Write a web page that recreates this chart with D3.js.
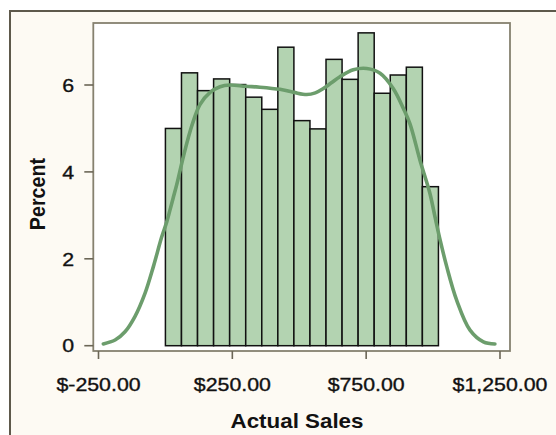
<!DOCTYPE html>
<html>
<head>
<meta charset="utf-8">
<script src="https://cdn.jsdelivr.net/npm/d3@7"></script>
<style>
  html, body { margin: 0; padding: 0; background: #ffffff; }
  svg { display: block; }
</style>
</head>
<body>
<div id="chart"></div>
<script>
// ---- data ----
const binLow  = [0, 60, 120, 180, 240, 300, 360, 420, 480, 540, 600, 660, 720, 780, 840, 900, 960];
const binHigh = [60, 120, 180, 240, 300, 360, 420, 480, 540, 600, 660, 720, 780, 840, 900, 960, 1020];
const percents = [5.0, 6.28, 5.87, 6.14, 6.01, 5.72, 5.44, 6.87, 5.18, 4.99, 6.59, 6.13, 7.2, 5.81, 6.23, 6.41, 3.66];

const densityX = [-232, -188, -151, -114, -76, -45, -14, 5, 17, 29, 42, 67, 98, 129, 167, 204, 241, 300, 353, 428, 480, 528, 560, 590, 620, 652, 702, 752, 802, 851, 889, 914, 951, 988, 1007, 1026, 1051, 1088, 1138, 1188, 1231];
const densityY = [0.04, 0.13, 0.32, 0.67, 1.21, 1.82, 2.5, 2.85, 3.12, 3.4, 3.7, 4.35, 5.05, 5.55, 5.83, 5.96, 6.0, 5.97, 5.95, 5.9, 5.83, 5.78, 5.82, 5.92, 6.05, 6.19, 6.35, 6.38, 6.27, 5.92, 5.46, 5.1, 4.27, 3.51, 2.97, 2.44, 1.82, 1.05, 0.36, 0.09, 0.04];

const xTickValues = [-250, 250, 750, 1250];
const xTickLabels = ["$-250.00", "$250.00", "$750.00", "$1,250.00"];
const yTickValues = [0, 2, 4, 6];
const yTickLabels = ["0", "2", "4", "6"];

const xTitle = "Actual Sales";
const yTitle = "Percent";

// ---- layout ----
const W = 556, H = 435;
const frame = { left: 93.3, top: 23, right: 510, bottom: 351 };
const SX = 1.135; // horizontal text stretch

const svg = d3.select("#chart").append("svg")
  .attr("width", W).attr("height", H);

const defs = svg.append("defs");
defs.append("filter").attr("id", "soft")
  .attr("x", "-5%").attr("y", "-5%").attr("width", "110%").attr("height", "110%")
  .append("feGaussianBlur").attr("stdDeviation", 0.45);

// outer background & border
svg.append("rect").attr("x", 10).attr("y", 11).attr("width", W).attr("height", H)
  .attr("fill", "#fdfaf3");
svg.append("path")
  .attr("d", `M10,${H + 2} L10,11 L${W + 2},11`)
  .attr("fill", "none").attr("stroke", "#5e594b").attr("stroke-width", 2);

// plot area
svg.append("rect")
  .attr("x", frame.left).attr("y", frame.top)
  .attr("width", frame.right - frame.left).attr("height", frame.bottom - frame.top)
  .attr("fill", "#ffffff");

const x = d3.scaleLinear().domain([-250, 1250]).range([98.5, 500]);
const y = d3.scaleLinear().domain([0, 6]).range([345.7, 85]);

// bars
const bars = binLow.map((lo, i) => ({ lo, hi: binHigh[i], v: percents[i] }));
svg.append("g").selectAll("rect").data(bars).join("rect")
  .attr("x", d => x(d.lo))
  .attr("y", d => y(d.v))
  .attr("width", d => x(d.hi) - x(d.lo))
  .attr("height", d => y(0) - y(d.v))
  .attr("fill", "#b3d3b1")
  .attr("stroke", "#111111")
  .attr("stroke-width", 1.5);

// density curve
const pts = densityX.map((dx, i) => [dx, densityY[i]]);
const line = d3.line().x(d => x(d[0])).y(d => y(d[1])).curve(d3.curveCatmullRom.alpha(0.5));
svg.append("path").datum(pts)
  .attr("d", line)
  .attr("fill", "none")
  .attr("stroke", "#6c9d6c")
  .attr("stroke-width", 3.6)
  .attr("stroke-linecap", "round")
  .attr("stroke-linejoin", "round")
  .attr("filter", "url(#soft)");

// frame border
svg.append("rect")
  .attr("x", frame.left).attr("y", frame.top)
  .attr("width", frame.right - frame.left).attr("height", frame.bottom - frame.top)
  .attr("fill", "none").attr("stroke", "#86816f").attr("stroke-width", 1.8);

const tickColor = "#6b6656";
const font = "'Liberation Sans', Arial, sans-serif";

// x ticks
const xt = svg.append("g").selectAll("g").data(xTickValues).join("g")
  .attr("transform", d => `translate(${x(d)},0)`);
xt.append("line").attr("y1", frame.bottom).attr("y2", frame.bottom + 8)
  .attr("stroke", tickColor).attr("stroke-width", 1.6);
xt.append("text")
  .attr("transform", `translate(0,391) scale(${SX},1)`)
  .attr("text-anchor", "middle")
  .attr("font-family", font).attr("font-size", 18.8).attr("fill", "#111")
  .attr("stroke", "#111").attr("stroke-width", 0.35)
  .text((d, i) => xTickLabels[i]);

// y ticks
const yt = svg.append("g").selectAll("g").data(yTickValues).join("g")
  .attr("transform", d => `translate(0,${y(d)})`);
yt.append("line").attr("x1", frame.left - 9).attr("x2", frame.left)
  .attr("stroke", tickColor).attr("stroke-width", 1.6);
yt.append("text")
  .attr("transform", `translate(74,0) scale(${SX},1)`)
  .attr("text-anchor", "end")
  .attr("dy", "0.36em")
  .attr("font-family", font).attr("font-size", 18.8).attr("fill", "#111")
  .attr("stroke", "#111").attr("stroke-width", 0.35)
  .text((d, i) => yTickLabels[i]);

// axis titles
svg.append("text")
  .attr("transform", `translate(297,428) scale(${SX},1)`)
  .attr("text-anchor", "middle")
  .attr("font-family", font).attr("font-weight", "bold").attr("font-size", 19.7).attr("fill", "#111")
  .text(xTitle);
svg.append("text")
  .attr("transform", `translate(45,194) scale(${SX},1) rotate(-90)`)
  .attr("text-anchor", "middle")
  .attr("font-family", font).attr("font-weight", "bold").attr("font-size", 19.7).attr("fill", "#111")
  .text(yTitle);
</script>
</body>
</html>
